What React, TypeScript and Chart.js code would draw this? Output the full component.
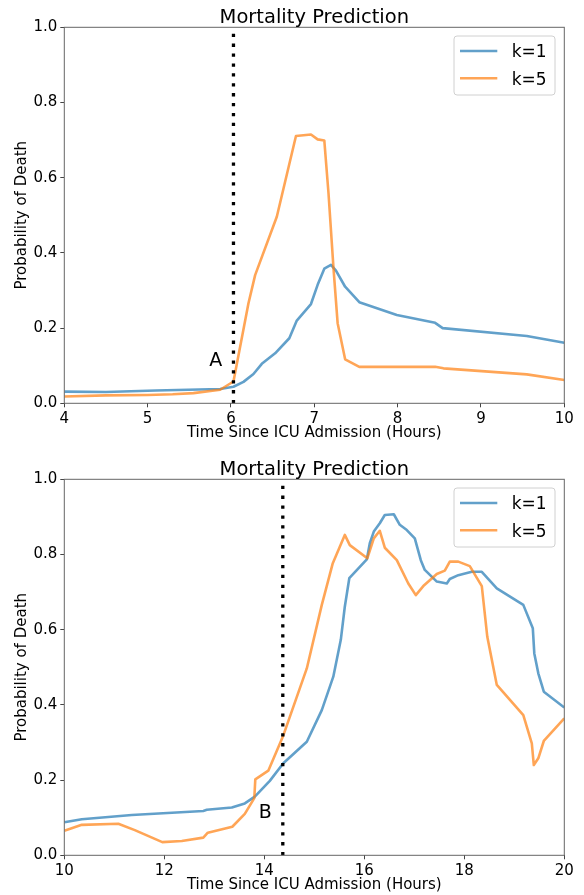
import { useEffect, useRef } from "react";
import { Chart, registerables } from "chart.js";

Chart.register(...registerables);

const FONT = "'DejaVu Sans', 'Liberation Sans', sans-serif";
const BLUE = "rgba(31,119,180,0.7)";
const ORANGE = "rgba(255,127,14,0.7)";

const chartTitle = "Mortality Prediction";
const xTitle = "Time Since ICU Admission (Hours)";
const yTitle = "Probability of Death";
const seriesLabels = ["k=1", "k=5"];
const yTicks = [0, 0.2, 0.4, 0.6, 0.8, 1.0];

// Top panel (event A)
const topXTicks = [4, 5, 6, 7, 8, 9, 10];
const topTimeK1 = [4.0, 4.5, 5.1, 5.87, 6.03, 6.15, 6.27, 6.37, 6.53, 6.7, 6.79, 6.96, 7.04, 7.12, 7.2, 7.26, 7.37, 7.54, 7.99, 8.45, 8.54, 9.55, 10.0];
const topProbK1 = [0.031, 0.03, 0.034, 0.038, 0.044, 0.057, 0.078, 0.105, 0.133, 0.173, 0.22, 0.264, 0.315, 0.358, 0.368, 0.353, 0.31, 0.269, 0.235, 0.214, 0.2, 0.179, 0.161];
const topTimeK5 = [4.0, 4.5, 5.0, 5.3, 5.55, 5.87, 6.03, 6.21, 6.29, 6.55, 6.78, 6.96, 7.04, 7.12, 7.17, 7.23, 7.28, 7.37, 7.54, 8.45, 8.55, 9.55, 10.0];
const topProbK5 = [0.018, 0.021, 0.022, 0.024, 0.027, 0.036, 0.058, 0.266, 0.341, 0.496, 0.711, 0.715, 0.702, 0.699, 0.56, 0.36, 0.213, 0.117, 0.097, 0.097, 0.093, 0.077, 0.062];
const topEventTime = 6.03;
const topMarker = "A";
const topMarkerAt = [5.74, 0.1];

// Bottom panel (event B)
const botXTicks = [10, 12, 14, 16, 18, 20];
const botTimeK1 = [10, 10.35, 11.35, 12.78, 12.85, 13.35, 13.61, 13.81, 14.11, 14.38, 14.85, 15.15, 15.38, 15.53, 15.61, 15.7, 16.05, 16.11, 16.19, 16.31, 16.41, 16.59, 16.71, 16.85, 17.01, 17.13, 17.21, 17.45, 17.65, 17.71, 17.88, 18.15, 18.35, 18.65, 19.18, 19.37, 19.4, 19.48, 19.59, 20];
const botProbK1 = [0.088, 0.096, 0.107, 0.118, 0.121, 0.127, 0.138, 0.156, 0.198, 0.245, 0.302, 0.386, 0.475, 0.573, 0.661, 0.737, 0.787, 0.83, 0.861, 0.883, 0.905, 0.907, 0.879, 0.865, 0.843, 0.785, 0.759, 0.728, 0.723, 0.735, 0.745, 0.754, 0.754, 0.71, 0.666, 0.604, 0.537, 0.484, 0.435, 0.393];
const botTimeK5 = [10, 10.35, 11.08, 11.41, 11.96, 12.35, 12.78, 12.87, 13.36, 13.61, 13.8, 13.82, 14.08, 14.37, 14.85, 15.15, 15.37, 15.61, 15.71, 16.06, 16.19, 16.31, 16.41, 16.65, 16.88, 17.03, 17.18, 17.45, 17.61, 17.71, 17.88, 18.11, 18.35, 18.46, 18.65, 19.18, 19.35, 19.39, 19.48, 19.59, 20];
const botProbK5 = [0.065, 0.081, 0.084, 0.067, 0.035, 0.038, 0.047, 0.06, 0.076, 0.11, 0.152, 0.202, 0.225, 0.315, 0.497, 0.666, 0.777, 0.852, 0.825, 0.79, 0.843, 0.863, 0.818, 0.785, 0.723, 0.692, 0.716, 0.748, 0.757, 0.781, 0.781, 0.769, 0.716, 0.581, 0.453, 0.373, 0.298, 0.24, 0.258, 0.304, 0.364];
const botEventTime = 14.37;
const botMarker = "B";
const botMarkerAt = [13.89, 0.1];

const overlayPlugin = {
  id: "overlay",
  afterDatasetsDraw(chart: any, _args: any, opts: any) {
    const { ctx, chartArea: a, scales } = chart;
    const x = scales.x;
    const y = scales.y;
    ctx.save();
    // dotted event line
    const px = x.getPixelForValue(opts.eventX);
    ctx.beginPath();
    ctx.setLineDash([3.3, 6.6]);
    ctx.lineWidth = 3.3;
    ctx.lineCap = "butt";
    ctx.strokeStyle = "#000";
    ctx.moveTo(px, a.bottom);
    ctx.lineTo(px, a.top);
    ctx.stroke();
    ctx.setLineDash([]);
    // marker letter
    ctx.fillStyle = "#000";
    ctx.font = `19px ${FONT}`;
    ctx.textAlign = "left";
    ctx.textBaseline = "alphabetic";
    ctx.fillText(opts.marker, x.getPixelForValue(opts.markerAt[0]), y.getPixelForValue(opts.markerAt[1]));
    // frame
    ctx.strokeStyle = "#666";
    ctx.lineWidth = 1;
    ctx.strokeRect(a.left, a.top, a.right - a.left, a.bottom - a.top);
    // title
    ctx.font = `19.5px ${FONT}`;
    ctx.textAlign = "center";
    ctx.fillText(opts.title, (a.left + a.right) / 2, a.top - 4.5);
    // legend
    const lx0 = a.right - 110.3;
    const ly0 = a.top + 8.7;
    ctx.beginPath();
    ctx.roundRect(lx0, ly0, 101, 59, 3);
    ctx.fillStyle = "rgba(255,255,255,0.8)";
    ctx.fill();
    ctx.strokeStyle = "#d0d0d0";
    ctx.lineWidth = 1;
    ctx.stroke();
    ctx.font = `17px ${FONT}`;
    ctx.textAlign = "left";
    chart.data.datasets.forEach((ds: any, i: number) => {
      const ly = ly0 + 15 + i * 27.3;
      ctx.beginPath();
      ctx.strokeStyle = ds.borderColor;
      ctx.lineWidth = 2.6;
      ctx.moveTo(lx0 + 6, ly);
      ctx.lineTo(lx0 + 43.3, ly);
      ctx.stroke();
      ctx.fillStyle = "#000";
      ctx.fillText(ds.label, lx0 + 57.7, ly + 6.3);
    });
    ctx.restore();
  },
};

function Panel(props: {
  height: number;
  tK1: number[];
  pK1: number[];
  tK5: number[];
  pK5: number[];
  xTicks: number[];
  eventX: number;
  marker: string;
  markerAt: number[];
}) {
  const ref = useRef<HTMLCanvasElement | null>(null);
  useEffect(() => {
    if (!ref.current) return;
    const H = props.height;
    const plotBottom = 403.3;
    const xmin = props.xTicks[0];
    const xmax = props.xTicks[props.xTicks.length - 1];
    const chart = new Chart(ref.current, {
      type: "line",
      data: {
        datasets: [
          {
            label: seriesLabels[0],
            data: props.tK1.map((t, i) => ({ x: t, y: props.pK1[i] })),
            borderColor: BLUE,
            backgroundColor: BLUE,
            borderWidth: 2.6,
            pointRadius: 0,
            tension: 0,
            borderJoinStyle: "round",
            order: 1,
          },
          {
            label: seriesLabels[1],
            data: props.tK5.map((t, i) => ({ x: t, y: props.pK5[i] })),
            borderColor: ORANGE,
            backgroundColor: ORANGE,
            borderWidth: 2.6,
            pointRadius: 0,
            tension: 0,
            borderJoinStyle: "round",
            order: 0,
          },
        ],
      },
      options: {
        responsive: false,
        animation: false,
        devicePixelRatio: 1,
        layout: { padding: { top: 27.3, right: 19.7, left: 0, bottom: 0 } },
        plugins: {
          legend: { display: false },
          title: { display: false },
          tooltip: { enabled: false },
          overlay: {
            eventX: props.eventX,
            marker: props.marker,
            markerAt: props.markerAt,
            title: chartTitle,
          },
        } as any,
        scales: {
          x: {
            type: "linear",
            min: xmin,
            max: xmax,
            afterBuildTicks: (s: any) => {
              s.ticks = props.xTicks.map((v) => ({ value: v }));
            },
            afterFit: (s: any) => {
              s.height = H - plotBottom;
            },
            ticks: {
              font: { family: FONT, size: 15 },
              color: "#000",
              padding: 3,
              maxRotation: 0,
              autoSkip: false,
            },
            grid: {
              display: true,
              drawOnChartArea: false,
              drawTicks: true,
              tickLength: 4,
              tickColor: "#444",
              tickWidth: 1,
            },
            border: { display: false },
            title: {
              display: true,
              text: xTitle,
              font: { family: FONT, size: 15 },
              color: "#000",
              padding: { top: 0, bottom: H - 433.5 - 9 },
            },
          },
          y: {
            type: "linear",
            min: 0,
            max: 1,
            afterBuildTicks: (s: any) => {
              s.ticks = yTicks.map((v) => ({ value: v }));
            },
            afterFit: (s: any) => {
              s.width = 64.3;
            },
            ticks: {
              font: { family: FONT, size: 15 },
              color: "#000",
              padding: 3,
              callback: (v: any) => Number(v).toFixed(1),
            },
            grid: {
              display: true,
              drawOnChartArea: false,
              drawTicks: true,
              tickLength: 4,
              tickColor: "#444",
              tickWidth: 1,
            },
            border: { display: false },
            title: {
              display: true,
              text: yTitle,
              font: { family: FONT, size: 15 },
              color: "#000",
              padding: { top: 13.5, bottom: 0 },
            },
          },
        },
      },
      plugins: [overlayPlugin],
    });
    return () => chart.destroy();
  }, []);
  return <canvas ref={ref} width={584} height={props.height} style={{ display: "block", width: 584, height: props.height }} />;
}

export default function App() {
  return (
    <div style={{ position: "absolute", left: 0, top: 0, width: 584, height: 895, overflow: "hidden", background: "#fff" }}>
      <Panel height={452} tK1={topTimeK1} pK1={topProbK1} tK5={topTimeK5} pK5={topProbK5} xTicks={topXTicks} eventX={topEventTime} marker={topMarker} markerAt={topMarkerAt} />
      <Panel height={443} tK1={botTimeK1} pK1={botProbK1} tK5={botTimeK5} pK5={botProbK5} xTicks={botXTicks} eventX={botEventTime} marker={botMarker} markerAt={botMarkerAt} />
    </div>
  );
}
